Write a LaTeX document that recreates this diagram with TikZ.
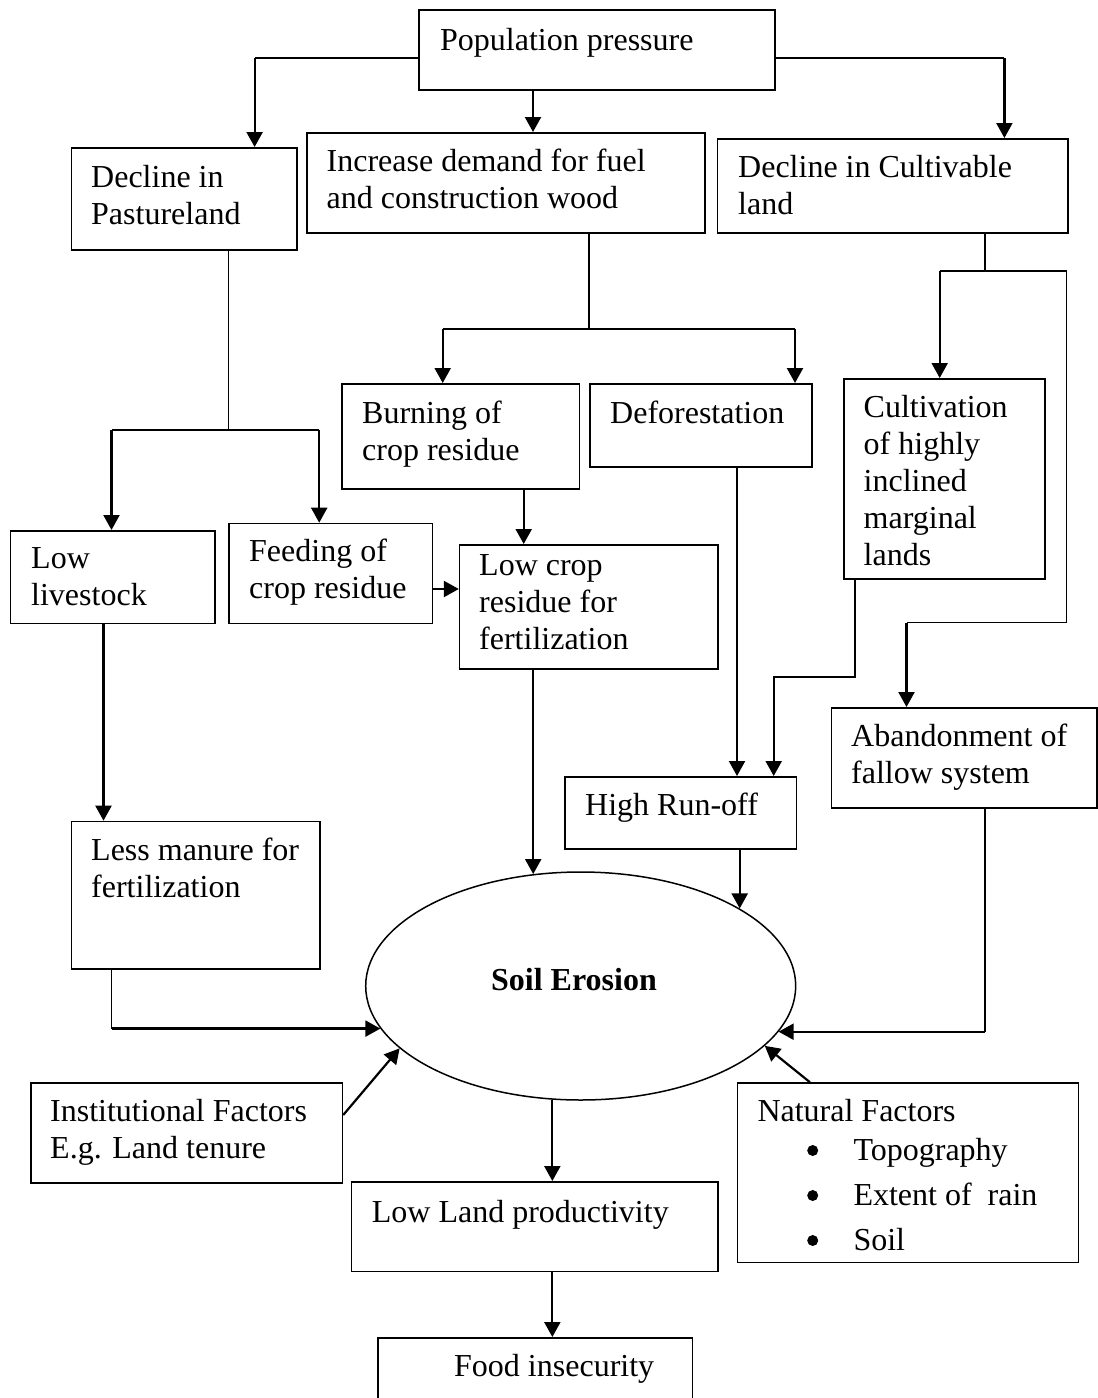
\documentclass[tikz,border=0pt]{standalone}
\usepackage{fontspec}
\setmainfont{Liberation Serif}
\usetikzlibrary{arrows.meta,shapes.geometric,calc}
\newcommand\fsz{\fontsize{32}{37}\selectfont}
\begin{document}
\begin{tikzpicture}[x=1pt,y=-1pt,
  box/.style={draw, line width=1.5pt, inner sep=0pt, anchor=north west},
  txt/.style={anchor=north west, inner sep=0pt, align=left, font=\fsz},
  conn/.style={line width=1.4pt},
  arr/.style={line width=2.2pt, -{Triangle[length=15pt,width=16pt]}}]
\clip (0,0) rectangle (1098,1398);
\fill[white] (0,0) rectangle (1098,1398);

% boxes
\node[box, minimum width=355.6pt, minimum height=80pt]  (pop)    at (418.4,9) {};
\node[box, minimum width=225.9pt, minimum height=102pt] (past)   at (70.5,147) {};
\node[box, minimum width=398pt,   minimum height=100pt] (incr)   at (306,132) {};
\node[box, minimum width=350.6pt, minimum height=94pt]  (cult)   at (716.7,138) {};
\node[box, minimum width=237.7pt, minimum height=105pt] (burn)   at (341,383) {};
\node[box, minimum width=222pt,   minimum height=83pt]  (defo)   at (589,383) {};
\node[box, minimum width=201pt,   minimum height=200pt] (cultiv) at (843,378) {};
\node[box, minimum width=204.5pt, minimum height=92.7pt] (lowl)  at (9.8,530) {};
\node[box, minimum width=203.5pt, minimum height=100pt] (feed)   at (228.3,522.7) {};
\node[box, minimum width=258.2pt, minimum height=124pt] (lowc)   at (458.8,544) {};
\node[box, minimum width=231.7pt, minimum height=72pt]  (run)    at (564,776) {};
\node[box, minimum width=265.3pt, minimum height=100pt] (aband)  at (830.7,707) {};
\node[box, minimum width=248.3pt, minimum height=147.3pt] (manure) at (70.9,820.7) {};
\node[box, minimum width=311.7pt, minimum height=100pt] (inst)   at (30,1082.3) {};
\node[box, minimum width=341.2pt, minimum height=179.4pt] (nat)  at (736.5,1082.3) {};
\node[box, minimum width=366.6pt, minimum height=89.7pt] (lowland) at (350.7,1181) {};
\node[box, minimum width=314.4pt, minimum height=90pt]  (food)   at (377.3,1337) {};
\node[draw, ellipse, line width=1.5pt, minimum width=430pt, minimum height=228pt, inner sep=0pt] (soil) at (580.7,986) {};

% texts
\node[txt] (popT)    at (440,24.1)    {\strut Population pressure};
\node[txt] (pastT)   at (91,161.1)    {\strut Decline in\\Pastureland};
\node[txt] (incrT)   at (326.5,145.1) {\strut Increase demand for fuel\\and construction wood};
\node[txt] (cultT)   at (738,151.1)   {\strut Decline in Cultivable\\land};
\node[txt] (burnT)   at (362,397.1)   {\strut Burning of\\crop residue};
\node[txt] (defoT)   at (610,397.1)   {\strut Deforestation};
\node[txt] (cultivT) at (863.5,391.1) {\strut Cultivation\\of highly\\inclined\\marginal\\lands};
\node[txt] (lowlT)   at (31,542.1)    {\strut Low\\livestock};
\node[txt] (feedT)   at (249,535.1)   {\strut Feeding of\\crop residue};
\node[txt] (lowcT)   at (479,549.1)   {\strut Low crop\\residue for\\fertilization};
\node[txt] (runT)    at (585,789.1)   {\strut High Run-off};
\node[txt] (abandT)  at (851,720.1)   {\strut Abandonment of\\fallow system};
\node[txt] (manureT) at (91,834.8)    {\strut Less manure for\\fertilization};
\node[txt] (instT)   at (50,1095.8)   {\strut Institutional Factors\\E.g. Land tenure};
\node[txt] (natT)    at (757.3,1095.8) {\strut Natural Factors};
\node[anchor=base west, inner sep=0pt, font=\fsz] (natA) at (853.3,1160) {Topography};
\node[anchor=base west, inner sep=0pt, font=\fsz] (natB) at (853.3,1205) {Extent of~ rain};
\node[anchor=base west, inner sep=0pt, font=\fsz] (natC) at (853.3,1250) {Soil};
\fill (812.7,1150.5) circle (5.5);
\fill (812.7,1195.5) circle (5.5);
\fill (812.7,1240.5) circle (5.5);
\node[txt] (lowlandT) at (371.7,1196.8) {\strut Low Land productivity};
\node[txt] (foodT)   at (454,1350.8)  {\strut Food insecurity};
\node[anchor=base, inner sep=0pt, font=\fsz\bfseries] (soilT) at (574,990) {Soil Erosion};

% corner coordinates
\coordinate (k1) at (254.6,58);
\coordinate (k2) at (1004.4,58);
\coordinate (k3) at (228.3,430);
\coordinate (b1) at (111.5,430);
\coordinate (b2) at (319.2,430);
\coordinate (k4) at (589,329);
\coordinate (c1) at (442.7,329);
\coordinate (c2) at (795,329);
\coordinate (k5) at (984.8,271);
\coordinate (d1) at (939.7,271);
\coordinate (d2) at (1066.6,271);
\coordinate (d3) at (1066.6,622.7);
\coordinate (d4) at (906.5,622.7);
\coordinate (e1) at (855,677);
\coordinate (e2) at (773.7,677);

% connectors
\draw[conn] (pop.west |- k1) -- (k1);
\draw[arr] (k1) -- (k1 |- past.north);
\draw[arr] (pop.south -| 533,0) -- (incr.north -| 533,0);
\draw[conn] (pop.east |- k2) -- (k2);
\draw[arr] (k2) -- (k2 |- cult.north);

\draw[conn] (past.south -| k3) -- (k3);
\draw[conn] (b1) -- (b2);
\draw[arr] (b1) -- (b1 |- lowl.north);
\draw[arr] (b2) -- (b2 |- feed.north);

\draw[conn] (incr.south -| k4) -- (k4);
\draw[conn] (c1) -- (c2);
\draw[arr] (c1) -- (c1 |- burn.north);
\draw[arr] (c2) -- (c2 |- defo.north);

\draw[conn] (cult.south -| k5) -- (k5);
\draw[conn] (d1) -- (d2) -- (d3) -- (d4);
\draw[arr] (d1) -- (d1 |- cultiv.north);
\draw[arr] (d4) -- (d4 |- aband.north);

\draw[arr] (cultiv.south -| e1) -- (e1) -- (e2) -- (e2 |- run.north);
\draw[arr] (defo.south -| 737,0) -- (run.north -| 737,0);
\draw[arr] (burn.south -| 523.7,0) -- (lowc.north -| 523.7,0);
\draw[arr] (feed.east |- 0,589) -- (lowc.west |- 0,589);
\draw[arr] (lowl.south -| 103.5,0) -- (manure.north -| 103.5,0);

\draw[arr] (lowc.south -| soil.113.3) -- (soil.113.3);
\draw[arr] (run.south -| soil.26.4) -- (soil.26.4);
\draw[conn] (manure.south -| 111.5,0) -- (soil.192.5 -| 111.5,0);
\draw[arr] (soil.192.5 -| 111.5,0) -- (soil.192.5);
\draw[conn] (aband.south -| 985,0) -- (soil.-13.8 -| 985,0);
\draw[arr] (soil.-13.8 -| 985,0) -- (soil.-13.8);
\draw[arr] (inst.east |- 0,1115) -- (soil.199);
\draw[arr] (nat.north -| 810,0) -- (soil.-18.8);
\draw[arr] (soil.256) -- (soil.256 |- lowland.north);
\draw[arr] (lowland.south -| soil.256) -- (food.north -| soil.256);
\end{tikzpicture}
\end{document}
